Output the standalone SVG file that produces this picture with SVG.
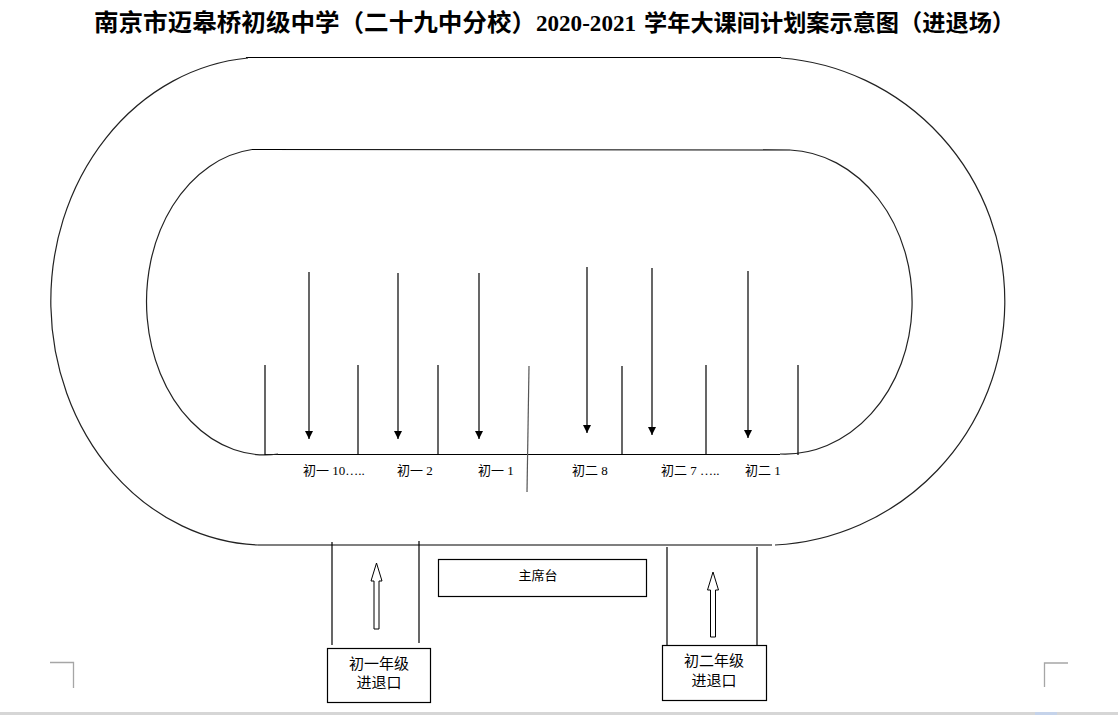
<svg xmlns="http://www.w3.org/2000/svg" width="1118" height="715" viewBox="0 0 1118 715">
<style>
.ln{stroke:#000;stroke-width:1.2;fill:none}
.arc{stroke:#222;stroke-width:1.2;fill:none}
.box{stroke:#000;stroke-width:1.2;fill:#fff}
.lbl{font-family:"Liberation Serif","Noto Sans CJK SC",serif;font-size:13px;fill:#000}
.cn{font-family:"Noto Sans CJK SC","Liberation Sans",sans-serif;fill:#000;text-anchor:middle}
.ttl{font-family:"Liberation Serif","Noto Sans CJK SC",serif;font-weight:bold;fill:#000}
.mk{stroke:#a6a6a6;stroke-width:1.3;fill:none}
</style>
<defs>
<marker id="ah" markerUnits="userSpaceOnUse" markerWidth="8" markerHeight="8" refX="8" refY="4" orient="auto">
<path d="M0,0 L8,4 L0,8 z" fill="#000"/>
</marker>
</defs>
<rect width="1118" height="715" fill="#fff"/>
<g id="title">
<text class="ttl" x="94" y="31" font-size="24" textLength="442" lengthAdjust="spacingAndGlyphs">南京市迈皋桥初级中学（二十九中分校）</text>
<text class="ttl" x="536" y="31" font-size="24" textLength="100" lengthAdjust="spacingAndGlyphs">2020-2021</text>
<text class="ttl" x="644" y="31" font-size="23" textLength="371" lengthAdjust="spacingAndGlyphs">学年大课间计划案示意图（进退场）</text>
</g>
<g id="track-outer">
<line class="ln" x1="246" y1="57.5" x2="781" y2="57.5"/>
<line class="ln" x1="258" y1="545" x2="772" y2="545"/>
<path class="arc" d="M248,58 A215,244 0 0 0 258,545"/>
<path class="arc" d="M781,58 A242,244 0 0 1 775,545"/>
</g>
<g id="track-inner">
<line class="ln" x1="252" y1="149.5" x2="790" y2="150"/>
<line class="ln" x1="265" y1="454.5" x2="780" y2="454.5"/>
<path class="arc" d="M252,149.5 A118,152.5 0 0 0 278,454"/>
<path class="arc" d="M790,150 A127,152 0 0 1 780,454"/>
</g>
<g id="dividers">
<line class="ln" x1="265" y1="365" x2="265" y2="455"/>
<line class="ln" x1="358" y1="365" x2="358" y2="455"/>
<line class="ln" x1="438" y1="365" x2="438" y2="455"/>
<line class="ln" x1="622" y1="366" x2="622" y2="455"/>
<line class="ln" x1="706" y1="365" x2="706" y2="455"/>
<line class="ln" x1="798" y1="365" x2="798" y2="455"/>
<line x1="529" y1="366" x2="527" y2="492" stroke="#555" stroke-width="1.2"/>
</g>
<g id="connectors">
<line class="ln" x1="309" y1="272" x2="309" y2="439" marker-end="url(#ah)"/>
<line class="ln" x1="398" y1="273" x2="398" y2="439" marker-end="url(#ah)"/>
<line class="ln" x1="479" y1="273" x2="479" y2="439" marker-end="url(#ah)"/>
<line class="ln" x1="587" y1="267" x2="587" y2="433" marker-end="url(#ah)"/>
<line class="ln" x1="652" y1="268" x2="652" y2="435" marker-end="url(#ah)"/>
<line class="ln" x1="748" y1="271" x2="748" y2="438" marker-end="url(#ah)"/>
<polygon points="376.5,563 382,581 379,581 379,629 374,629 374,581 371,581" fill="#fff" stroke="#000" stroke-width="1"/>
<polygon points="713,572 718.5,590 715.5,590 715.5,637 710.5,637 710.5,590 707.5,590" fill="#fff" stroke="#000" stroke-width="1"/>
</g>
<g id="class-labels">
<text class="lbl" x="303" y="475">初一 10…..</text>
<text class="lbl" x="397" y="475">初一 2</text>
<text class="lbl" x="478" y="475">初一 1</text>
<text class="lbl" x="572" y="475">初二 8</text>
<text class="lbl" x="661" y="475">初二 7 …..</text>
<text class="lbl" x="745" y="475">初二 1</text>
</g>
<g id="gate-left">
<line class="ln" x1="332" y1="542" x2="332" y2="645"/>
<line class="ln" x1="419" y1="541" x2="419" y2="643"/>
</g>
<g id="gate-right">
<line class="ln" x1="667" y1="547" x2="667" y2="645"/>
<line class="ln" x1="757" y1="547" x2="757" y2="645"/>
</g>
<g id="rostrum">
<rect class="box" x="438.5" y="559.5" width="208" height="37"/>
<text class="cn" x="538" y="580" font-size="13">主席台</text>
</g>
<g id="entrance-1">
<rect class="box" x="327.5" y="648.5" width="103" height="54"/>
<text class="cn" x="379" y="669" font-size="15">初一年级</text>
<text class="cn" x="379" y="688" font-size="15">进退口</text>
</g>
<g id="entrance-2">
<rect class="box" x="662.5" y="645.5" width="104" height="55"/>
<text class="cn" x="714" y="666" font-size="15">初二年级</text>
<text class="cn" x="714" y="686" font-size="15">进退口</text>
</g>
<g id="page-marks">
<path class="mk" d="M50,662.5 H73.5 V688"/>
<path class="mk" d="M1068,663 H1044.5 V687"/>
<rect x="0" y="712" width="1118" height="3" fill="#d6d6d6"/>
<rect x="1035" y="712" width="22" height="3" fill="#c5d3ea"/>
</g>
</svg>
